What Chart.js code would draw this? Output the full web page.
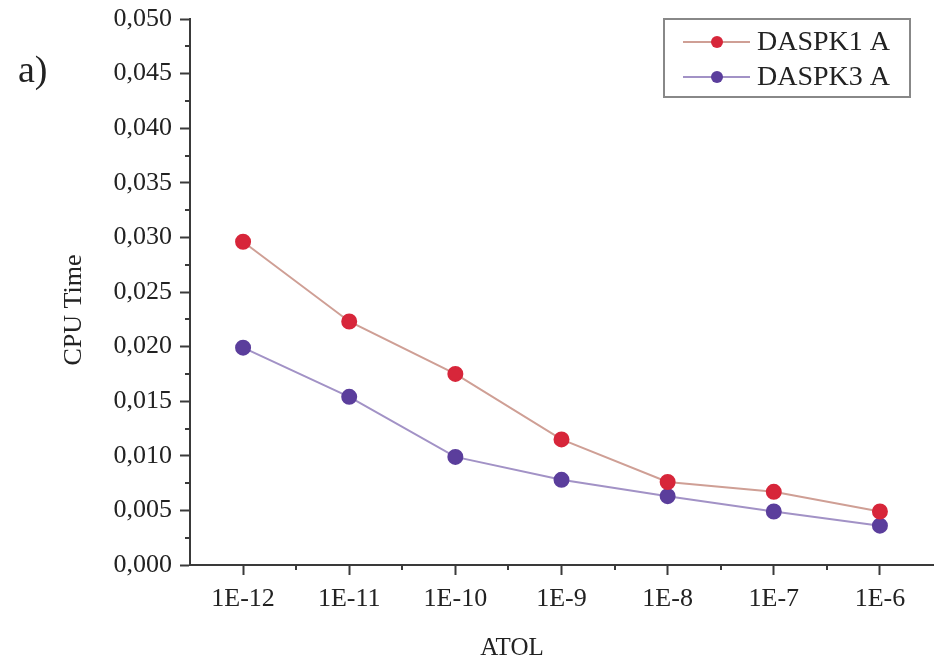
<!DOCTYPE html>
<html>
<head>
<meta charset="utf-8">
<script src="https://cdn.jsdelivr.net/npm/chart.js@4.4.1/dist/chart.umd.min.js"></script>
<style>
  html, body { margin: 0; padding: 0; background: #fff; }
  #wrap { width: 934px; height: 662px; }
</style>
</head>
<body>
<div id="wrap"><canvas id="grafico-cpu"></canvas></div>
<script>
// ==========================
// DADOS
// ==========================
const atolLabels = ["1E-12", "1E-11", "1E-10", "1E-9", "1E-8", "1E-7", "1E-6"];
const daspk1 = [0.0296, 0.0223, 0.0175, 0.0115, 0.0076, 0.0067, 0.0049];
const daspk3 = [0.0199, 0.0154, 0.0099, 0.0078, 0.0063, 0.0049, 0.0036];
const seriesNames = ["DASPK1 A", "DASPK3 A"];

const serif = "'Liberation Serif', 'Times New Roman', serif";
const axisColor = "#3a3a3a";

// ==========================
// PLUGIN: minor ticks, títulos dos eixos, "a)" e legenda com moldura
// ==========================
const extras = {
  id: "extras",
  afterDraw(chart) {
    const { ctx, scales: { x, y }, chartArea } = chart;
    ctx.save();
    ctx.strokeStyle = axisColor;
    ctx.lineWidth = 2;
    // minor ticks eixo y
    for (let v = 0.0025; v < 0.05; v += 0.005) {
      const py = Math.round(y.getPixelForValue(v));
      ctx.beginPath();
      ctx.moveTo(chartArea.left - 5, py);
      ctx.lineTo(chartArea.left, py);
      ctx.stroke();
    }
    // minor ticks eixo x
    const step = x.getPixelForValue(1) - x.getPixelForValue(0);
    for (let i = 0; i < atolLabels.length - 1; i++) {
      const px = Math.round(x.getPixelForValue(i) + step / 2);
      ctx.beginPath();
      ctx.moveTo(px, chartArea.bottom);
      ctx.lineTo(px, chartArea.bottom + 5);
      ctx.stroke();
    }

    // título do eixo x (no original fica à esquerda do centro)
    ctx.fillStyle = "#222";
    ctx.font = "25px " + serif;
    ctx.textAlign = "center";
    ctx.textBaseline = "middle";
    ctx.fillText("ATOL", 512, 648);

    // título do eixo y (um pouco abaixo do centro, como no original)
    ctx.font = "26px " + serif;
    ctx.translate(74, 310);
    ctx.rotate(-Math.PI / 2);
    ctx.fillText("CPU Time", 0, 0);
    ctx.setTransform(1, 0, 0, 1, 0, 0);

    // "a)"
    ctx.font = "38px " + serif;
    ctx.textBaseline = "alphabetic";
    ctx.textAlign = "left";
    ctx.fillText("a)", 18, 82);

    // legenda
    const box = { l: 664, t: 19, r: 910, b: 97 };
    ctx.strokeStyle = "#888";
    ctx.lineWidth = 2;
    ctx.strokeRect(box.l, box.t, box.r - box.l, box.b - box.t);
    const rows = [42, 77];
    chart.data.datasets.forEach((ds, i) => {
      const ry = rows[i];
      ctx.strokeStyle = ds.borderColor;
      ctx.lineWidth = 2;
      ctx.beginPath();
      ctx.moveTo(683, ry);
      ctx.lineTo(750, ry);
      ctx.stroke();
      ctx.fillStyle = ds.pointBackgroundColor;
      ctx.beginPath();
      ctx.arc(717, ry, 6, 0, Math.PI * 2);
      ctx.fill();
      ctx.fillStyle = "#222";
      ctx.font = "28px " + serif;
      ctx.textBaseline = "middle";
      ctx.fillText(ds.label, 757, ry + 1);
    });
    ctx.restore();
  }
};

// ==========================
// GRÁFICO
// ==========================
const ctxCpu = document.getElementById("grafico-cpu");
new Chart(ctxCpu, {
  type: "line",
  data: {
    labels: atolLabels,
    datasets: [
      {
        label: seriesNames[0],
        data: daspk1,
        borderColor: "#cf9f95",
        pointBackgroundColor: "#d7263a",
        pointBorderColor: "#d7263a",
        borderWidth: 2,
        pointRadius: 7,
        tension: 0
      },
      {
        label: seriesNames[1],
        data: daspk3,
        borderColor: "#a292c6",
        pointBackgroundColor: "#5b3e9c",
        pointBorderColor: "#5b3e9c",
        borderWidth: 2,
        pointRadius: 7,
        tension: 0
      }
    ]
  },
  options: {
    responsive: true,
    maintainAspectRatio: false,
    animation: false,
    layout: { autoPadding: false, padding: { left: 50, top: 19, right: 1, bottom: 0 } },
    plugins: {
      legend: { display: false },
      tooltip: { enabled: false }
    },
    scales: {
      x: {
        offset: true,
        afterFit: s => { s.height = 97; s.paddingLeft = 0; s.paddingRight = 0; },
        grid: { drawOnChartArea: false, offset: false, tickLength: 10, tickWidth: 2, tickColor: axisColor },
        border: { display: true, color: axisColor, width: 2 },
        ticks: { color: "#222", padding: 9, font: { family: serif, size: 26 } },
        title: { display: false }
      },
      y: {
        min: 0,
        max: 0.05,
        afterFit: s => { s.width = 140; s.paddingTop = 0; s.paddingBottom = 0; },
        grid: { drawOnChartArea: false, tickLength: 10, tickWidth: 2, tickColor: axisColor },
        border: { display: true, color: axisColor, width: 2 },
        ticks: {
          stepSize: 0.005,
          color: "#222",
          padding: 8,
          font: { family: serif, size: 26 },
          callback: v => Number(v).toFixed(3).replace(".", ",")
        },
        title: { display: false }
      }
    }
  },
  plugins: [extras]
});
</script>
</body>
</html>
